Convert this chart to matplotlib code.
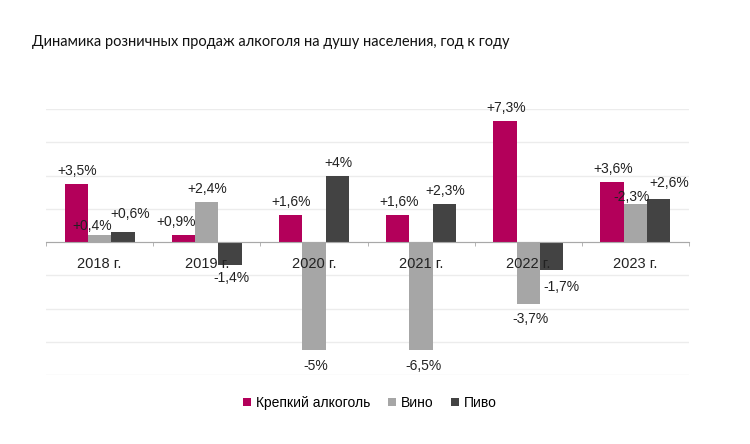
import numpy as np
import matplotlib.pyplot as plt
from matplotlib.patches import Patch

# ----- data (heights as drawn in the source picture, labels as printed)
years = ['2018 г.', '2019 г.', '2020 г.', '2021 г.', '2022 г.', '2023 г.']
series = ['Крепкий алкоголь', 'Вино', 'Пиво']

strong = [3.5, 0.45, 1.6, 1.6, 7.3, 3.6]
wine = [0.4, 2.4, -6.5, -6.5, -3.7, 2.3]
beer = [0.6, -1.4, 4.0, 2.3, -1.7, 2.6]

strong_lbl = ['+3,5%', '+0,9%', '+1,6%', '+1,6%', '+7,3%', '+3,6%']
wine_lbl = ['+0,4%', '+2,4%', '-5%', '-6,5%', '-3,7%', '-2,3%']
beer_lbl = ['+0,6%', '-1,4%', '+4%', '+2,3%', '-1,7%', '+2,6%']

colors = ['#b3005a', '#a6a6a6', '#434343']

# label nudges in pixels (dx, distance from bar end), hand tuned like the source
nudge = {
    (1, 0): (-7, 9), (2, 0): (7, 18), (0, 1): (-7, 13),
    (1, 2): (2, 16), (1, 3): (2, 16), (1, 4): (2, 15),
    (2, 4): (10, 17), (1, 5): (-4, 7), (2, 5): (10, 16),
}

plt.rcParams['font.family'] = ['Liberation Sans', 'DejaVu Sans']

fig = plt.figure(figsize=(7.5, 4.44), dpi=100)
ax = fig.add_axes([0.0613, 0.1554, 0.8574, 0.5991])

x = np.arange(len(years))
w = 0.218
vals = [strong, wine, beer]
lbls = [strong_lbl, wine_lbl, beer_lbl]

for s in range(3):
    bars = ax.bar(x + (s - 1) * w, vals[s], width=w, color=colors[s], zorder=2)
    for i, b in enumerate(bars):
        v = vals[s][i]
        dx, dy = nudge.get((s, i), (1, 13))
        sign = 1 if v >= 0 else -1
        ax.annotate(lbls[s][i], (b.get_x() + b.get_width() / 2, v),
                    xytext=(dx, sign * dy), textcoords='offset pixels',
                    ha='center', va='center', fontsize=10, color='#222222',
                    zorder=4)

ax.set_xlim(-0.5, len(years) - 0.5)
ax.set_ylim(-8, 8)
ax.set_yticks(np.arange(-8, 9, 2))
ax.yaxis.grid(True, color='#ececec', linewidth=1)
ax.yaxis.set_zorder(0.5)
ax.xaxis.set_zorder(3)
ax.tick_params(axis='y', left=False, labelleft=False)

for sp in ['top', 'right', 'left']:
    ax.spines[sp].set_visible(False)
ax.spines['bottom'].set_position(('data', 0))
ax.spines['bottom'].set_color('#a8a8a8')
ax.spines['bottom'].set_zorder(3)

ax.set_xticks(x)
ax.set_xticklabels(years, fontsize=10.5, color='#222222')
ax.tick_params(axis='x', which='major', length=0, pad=11)
ax.set_xticks(np.arange(-0.5, len(years), 1), minor=True)
ax.tick_params(axis='x', which='minor', length=3, color='#a8a8a8', direction='out')

fig.text(0.043, 0.905, 'Динамика розничных продаж алкоголя на душу населения, год к году',
         fontsize=10.5, family=['Lato', 'DejaVu Sans'], color='#111111',
         va='center', ha='left')

handles = [Patch(facecolor=c) for c in colors]
fig.legend(handles, series, loc='center', bbox_to_anchor=(0.493, 0.092), ncol=3,
           frameon=False, fontsize=10, handlelength=0.55, handleheight=0.55,
           handletextpad=0.35, columnspacing=1.3)

fig.savefig('out.png', dpi=100)
